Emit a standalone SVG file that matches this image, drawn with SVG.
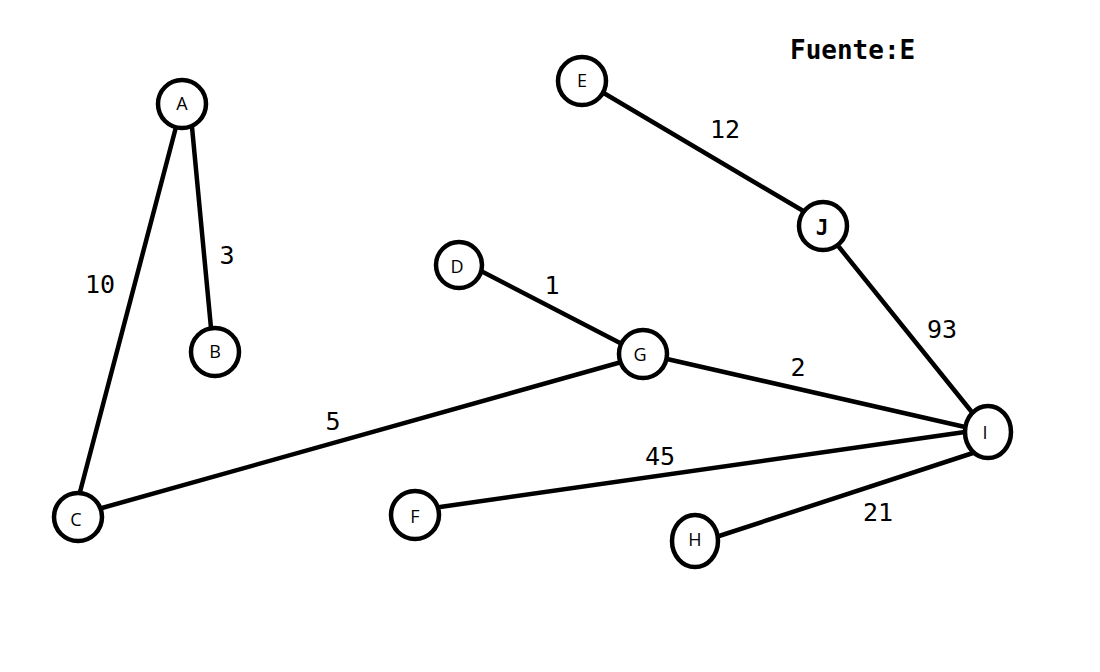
<svg xmlns="http://www.w3.org/2000/svg" width="1100" height="672" viewBox="0 0 1100 672">
<style>
.n{fill:#fff;stroke:#000;stroke-width:4.5}
.e{stroke:#000;stroke-width:4.5;stroke-linecap:round}
.t{font-family:"Open Sans","DejaVu Sans",sans-serif;font-size:18px;text-anchor:middle;dominant-baseline:central;fill:#000}
.w{font-family:"DejaVu Sans Mono","Liberation Mono",monospace;font-size:25px;fill:#000;text-anchor:middle;dominant-baseline:central}
</style>
<rect width="1100" height="672" fill="#fff"/>
<g id="connectors">
<line class="e" x1="176" y1="127" x2="80" y2="492"/>
<line class="e" x1="192" y1="127" x2="211" y2="328"/>
<line class="e" x1="602" y1="92" x2="805" y2="212"/>
<line class="e" x1="839" y1="247" x2="971" y2="411"/>
<line class="e" x1="481" y1="271" x2="622" y2="344"/>
<line class="e" x1="667" y1="359" x2="965" y2="427"/>
<line class="e" x1="102" y1="508" x2="625" y2="361"/>
<line class="e" x1="440" y1="507" x2="965" y2="432"/>
<line class="e" x1="716" y1="537" x2="976" y2="452"/>
<text class="w" x="100" y="284">10</text>
<text class="w" x="227" y="255">3</text>
<text class="w" x="725" y="129">12</text>
<text class="w" x="552" y="285">1</text>
<text class="w" x="333" y="421">5</text>
<text class="w" x="798" y="367">2</text>
<text class="w" x="942" y="329">93</text>
<text class="w" x="660" y="456">45</text>
<text class="w" x="878" y="512">21</text>
</g>
<g id="A"><circle class="n" cx="182" cy="104" r="24"/><text class="t" x="182" y="103">A</text></g>
<g id="B"><circle class="n" cx="215" cy="352" r="24"/><text class="t" x="215" y="351">B</text></g>
<g id="C"><circle class="n" cx="78" cy="517" r="24"/><text class="t" x="76" y="519">C</text></g>
<g id="D"><circle class="n" cx="459" cy="265" r="23"/><text class="t" x="457" y="266">D</text></g>
<g id="E"><circle class="n" cx="582" cy="81" r="24"/><text class="t" x="582" y="80">E</text></g>
<g id="F"><circle class="n" cx="415" cy="515" r="24"/><text class="t" x="415" y="516">F</text></g>
<g id="G"><circle class="n" cx="643" cy="354" r="24"/><text class="t" x="640" y="354">G</text></g>
<g id="H"><ellipse class="n" cx="695" cy="541" rx="23" ry="26"/><text class="t" x="695" y="539">H</text></g>
<g id="I"><ellipse class="n" cx="988" cy="432" rx="23" ry="26"/><text class="t" x="985" y="432">I</text></g>
<g id="J"><circle class="n" cx="823" cy="226" r="24"/><text x="822" y="228" style="font-family:'DejaVu Sans Mono',monospace;font-weight:bold;font-size:21px;text-anchor:middle;dominant-baseline:central">J</text></g>
<text x="790" y="59" style="font-family:'DejaVu Sans Mono','Liberation Mono',monospace;font-weight:bold;font-size:26px;fill:#000">Fuente:E</text>
</svg>
